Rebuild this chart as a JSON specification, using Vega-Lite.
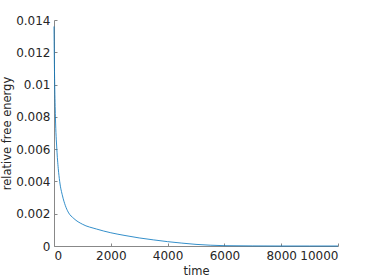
{
  "$schema": "https://vega.github.io/schema/vega-lite/v6.json",
  "autosize": "none",
  "width": 284,
  "height": 226,
  "padding": {"left": 54, "top": 20, "right": 36, "bottom": 34},
  "background": "white",
  "config": {
    "view": {"stroke": null},
    "font": "DejaVu Sans",
    "axis": {
      "grid": false,
      "domainColor": "#888888",
      "tickColor": "#888888",
      "labelColor": "#262626",
      "titleColor": "#262626",
      "labelFont": "DejaVu Sans",
      "titleFont": "DejaVu Sans",
      "labelFontSize": 12,
      "titleFontSize": 11.5,
      "titleFontWeight": "normal",
      "tickSize": -3,
      "labelPadding": 7
    }
  },
  "data": {
    "values": [
      {"t": 0, "e": 0.0136},
      {"t": 10, "e": 0.0118},
      {"t": 25, "e": 0.0100},
      {"t": 50, "e": 0.0080},
      {"t": 100, "e": 0.0060},
      {"t": 150, "e": 0.0048},
      {"t": 200, "e": 0.0040},
      {"t": 300, "e": 0.0031},
      {"t": 400, "e": 0.0025},
      {"t": 500, "e": 0.0021},
      {"t": 700, "e": 0.0017},
      {"t": 1000, "e": 0.00135},
      {"t": 1500, "e": 0.00105},
      {"t": 2000, "e": 0.00082},
      {"t": 2500, "e": 0.00065},
      {"t": 3000, "e": 0.0005},
      {"t": 3500, "e": 0.00038},
      {"t": 4000, "e": 0.00027},
      {"t": 4500, "e": 0.00018},
      {"t": 5000, "e": 0.0001},
      {"t": 5500, "e": 0.00005},
      {"t": 6000, "e": 0.00002},
      {"t": 7000, "e": 0.000005},
      {"t": 8000, "e": 0},
      {"t": 9000, "e": 0},
      {"t": 10000, "e": 0}
    ]
  },
  "mark": {"type": "line", "color": "#0072BD", "strokeWidth": 0.8, "interpolate": "monotone"},
  "encoding": {
    "x": {
      "field": "t", "type": "quantitative", "title": "time",
      "scale": {"domain": [0, 10000], "nice": false},
      "axis": {"values": [0, 2000, 4000, 6000, 8000, 10000], "format": "d", "titlePadding": 4}
    },
    "y": {
      "field": "e", "type": "quantitative", "title": "relative free energy",
      "scale": {"domain": [0, 0.014], "nice": false},
      "axis": {"values": [0, 0.002, 0.004, 0.006, 0.008, 0.01, 0.012, 0.014], "format": "~f", "titlePadding": 3}
    }
  }
}
